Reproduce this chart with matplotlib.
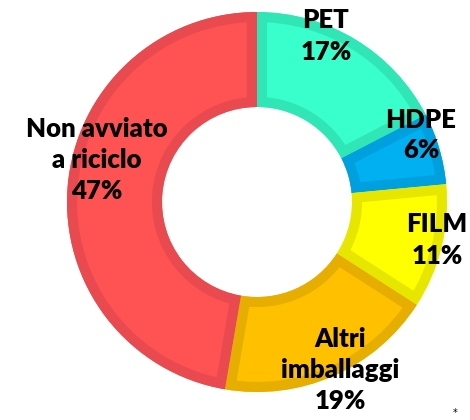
import matplotlib.pyplot as plt
from matplotlib.patches import Wedge

# slices, clockwise from 12 o'clock
names = ['PET', 'HDPE', 'FILM', 'Altri\nimballaggi', 'Non avviato\na riciclo']
shares = [17.4, 6.1, 10.6, 18.6, 47.3]
fills = ['#38FFCB', '#00B0F0', '#FFFF00', '#FFC000', '#FF5252']
borders = ['#30E6B6', '#00A0DF', '#E6E600', '#E6AE00', '#E84A50']

# label centres in pixels (x, y from top), picture is 470x420
label_px = [(326, 36), (421, 135), (437, 240), (340, 370), (97, 160)]

cx, cy, R = 257, 202, 190
W, H = 470, 420

fig = plt.figure(figsize=(4.7, 4.2), dpi=100)
ax = fig.add_axes([(cx - R) / W, (H - cy - R) / H, 2 * R / W, 2 * R / H])

wedges, _ = ax.pie(shares, colors=fills, startangle=90, counterclock=False,
                   radius=1, wedgeprops=dict(width=0.5, linewidth=0))
for w, ec in zip(wedges, borders):
    # inner border: wide outline clipped to the slice
    s = Wedge(w.center, w.r, w.theta1, w.theta2, width=w.width,
              fill=False, ec=ec, lw=14.5)
    ax.add_patch(s)
    s.set_clip_path(w.get_path(), w.get_transform())

for name, v, (px, py) in zip(names, shares, label_px):
    ax.text((px - cx) / R, (cy - py) / R, f'{name}\n{round(v)}%',
            ha='center', va='center', fontsize=18.5, fontweight='heavy',
            family='Lato', linespacing=1.35, clip_on=False)

fig.text(455 / W, 1 - 413 / H, '*', ha='center', va='center', fontsize=7)

ax.set_xlim(-1, 1)
ax.set_ylim(-1, 1)
ax.axis('off')
fig.savefig('out.png', dpi=100)
